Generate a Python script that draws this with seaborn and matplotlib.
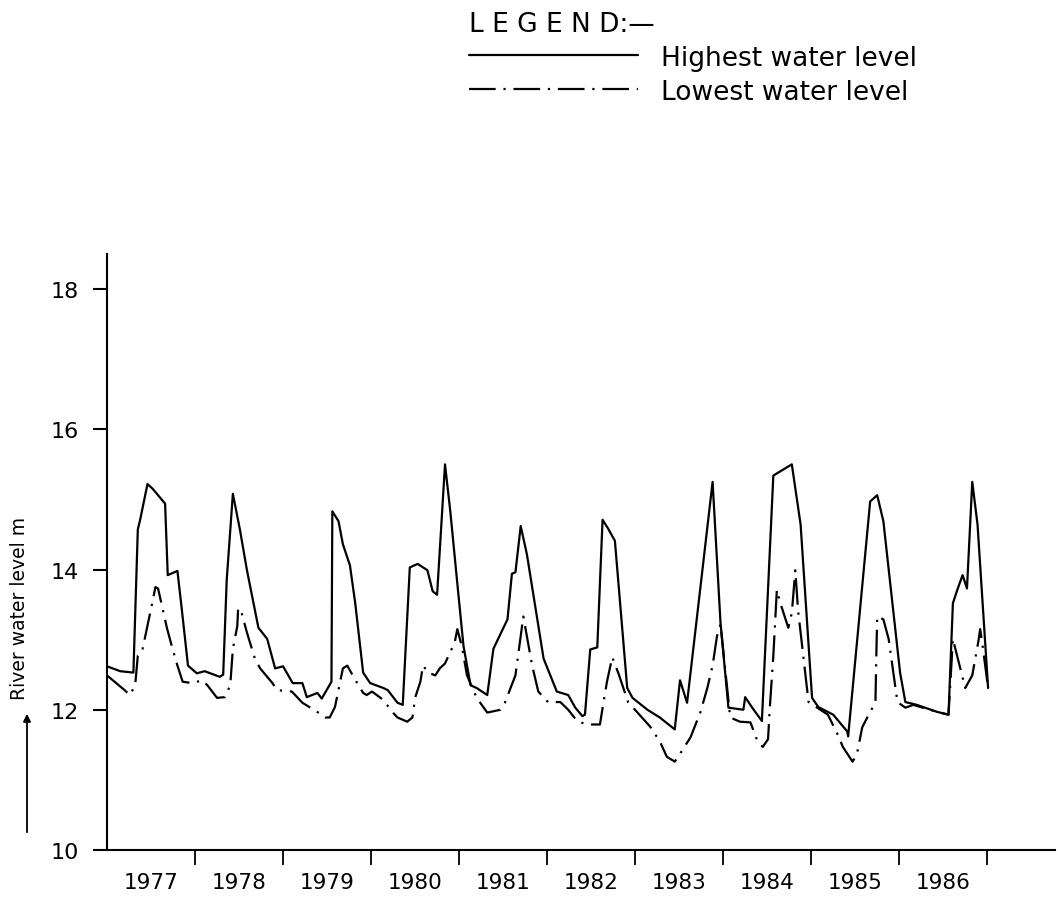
import matplotlib
matplotlib.use("Agg")
import matplotlib.pyplot as plt
import seaborn as sns
import pandas as pd
from matplotlib.ticker import FixedLocator, NullFormatter, FixedFormatter

# ---- data (decimal years, river level in m) ----
high_time = [1977.00, 1977.15, 1977.30, 1977.35, 1977.38, 1977.46, 1977.52, 1977.66, 1977.69,
             1977.80, 1977.85, 1977.92, 1978.02, 1978.11, 1978.28, 1978.32, 1978.36, 1978.43,
             1978.51, 1978.59, 1978.72, 1978.82, 1978.91, 1979.00, 1979.11, 1979.22, 1979.27,
             1979.39, 1979.44, 1979.55, 1979.56, 1979.63, 1979.68, 1979.76, 1979.82, 1979.91,
             1979.99, 1980.14, 1980.19, 1980.30, 1980.36, 1980.44, 1980.53, 1980.64, 1980.70,
             1980.75, 1980.84, 1980.90, 1980.98, 1981.05, 1981.13, 1981.20, 1981.32, 1981.39,
             1981.55, 1981.60, 1981.64, 1981.70, 1981.77, 1981.96, 1982.11, 1982.24, 1982.32,
             1982.40, 1982.43, 1982.49, 1982.57, 1982.63, 1982.69, 1982.77, 1982.91, 1982.97,
             1983.14, 1983.28, 1983.45, 1983.51, 1983.59, 1983.88, 1983.97, 1984.06, 1984.23,
             1984.25, 1984.33, 1984.44, 1984.57, 1984.78, 1984.88, 1985.01, 1985.08, 1985.25,
             1985.41, 1985.42, 1985.67, 1985.75, 1985.82, 1986.01, 1986.07, 1986.20, 1986.43,
             1986.56, 1986.61, 1986.66, 1986.72, 1986.77, 1986.83, 1986.89, 1987.01]
high_level = [12.62, 12.55, 12.53, 14.57, 14.73, 15.22, 15.15, 14.94, 13.92,
              13.98, 13.43, 12.63, 12.52, 12.55, 12.47, 12.50, 13.85, 15.08,
              14.57, 13.99, 13.17, 13.01, 12.59, 12.62, 12.38, 12.38, 12.18,
              12.24, 12.16, 12.40, 14.83, 14.69, 14.36, 14.06, 13.52, 12.53,
              12.38, 12.31, 12.28, 12.10, 12.07, 14.03, 14.08, 13.99, 13.69,
              13.64, 15.50, 14.83, 13.80, 12.91, 12.35, 12.31, 12.21, 12.87,
              13.29, 13.94, 13.96, 14.62, 14.22, 12.73, 12.26, 12.21, 12.03,
              11.91, 11.93, 12.86, 12.89, 14.71, 14.59, 14.41, 12.31, 12.17,
              12.00, 11.89, 11.72, 12.42, 12.10, 15.25, 13.24, 12.03, 12.00,
              12.18, 12.03, 11.84, 15.34, 15.50, 14.64, 12.17, 12.04, 11.93,
              11.69, 11.62, 14.97, 15.06, 14.69, 12.53, 12.11, 12.07, 11.97,
              11.93, 13.52, 13.71, 13.92, 13.73, 15.25, 14.64, 12.31]

low_time = [1977.00, 1977.20, 1977.26, 1977.32, 1977.35, 1977.40, 1977.51, 1977.55, 1977.58,
            1977.68, 1977.74, 1977.80, 1977.86, 1977.97, 1978.08, 1978.14, 1978.25, 1978.34,
            1978.40, 1978.43, 1978.48, 1978.49, 1978.53, 1978.59, 1978.68, 1978.74, 1978.88,
            1978.93, 1979.10, 1979.22, 1979.40, 1979.48, 1979.53, 1979.59, 1979.68, 1979.73,
            1979.80, 1979.91, 1979.95, 1980.01, 1980.14, 1980.24, 1980.30, 1980.41, 1980.47,
            1980.50, 1980.56, 1980.59, 1980.65, 1980.73, 1980.78, 1980.84, 1980.95, 1980.98,
            1981.03, 1981.09, 1981.20, 1981.32, 1981.47, 1981.52, 1981.64, 1981.69, 1981.73,
            1981.77, 1981.83, 1981.90, 1982.01, 1982.15, 1982.24, 1982.34, 1982.45, 1982.60,
            1982.64, 1982.68, 1982.74, 1982.81, 1982.92, 1983.17, 1983.28, 1983.36, 1983.45,
            1983.53, 1983.63, 1983.74, 1983.82, 1983.88, 1983.93, 1983.97, 1984.08, 1984.19,
            1984.31, 1984.39, 1984.45, 1984.51, 1984.53, 1984.57, 1984.61, 1984.65, 1984.74,
            1984.78, 1984.82, 1984.85, 1984.91, 1984.97, 1985.19, 1985.30, 1985.36, 1985.47,
            1985.52, 1985.58, 1985.67, 1985.73, 1985.74, 1985.75, 1985.82, 1985.88, 1985.98,
            1986.07, 1986.16, 1986.43, 1986.56, 1986.61, 1986.75, 1986.83, 1986.90, 1986.92,
            1986.95, 1987.01]
low_level = [12.49, 12.28, 12.21, 12.35, 12.77, 12.84, 13.50, 13.75, 13.73,
             13.17, 12.89, 12.63, 12.40, 12.38, 12.42, 12.35, 12.17, 12.18,
             12.35, 12.87, 13.19, 13.45, 13.38, 13.10, 12.73, 12.59, 12.38,
             12.28, 12.26, 12.10, 11.96, 11.89, 11.89, 12.04, 12.59, 12.63,
             12.47, 12.24, 12.21, 12.26, 12.14, 11.97, 11.89, 11.83, 11.89,
             12.17, 12.40, 12.63, 12.53, 12.49, 12.59, 12.66, 12.96, 13.15,
             12.91, 12.49, 12.17, 11.96, 12.00, 12.10, 12.49, 12.96, 13.33,
             13.05, 12.63, 12.26, 12.11, 12.11, 12.00, 11.84, 11.79, 11.79,
             12.10, 12.40, 12.75, 12.52, 12.11, 11.76, 11.55, 11.33, 11.26,
             11.41, 11.61, 11.96, 12.31, 12.63, 13.05, 13.22, 11.89, 11.83,
             11.82, 11.55, 11.47, 11.58, 12.03, 12.77, 13.71, 13.52, 13.17,
             13.38, 13.99, 13.43, 12.77, 12.11, 11.93, 11.65, 11.47, 11.26,
             11.37, 11.75, 11.97, 12.10, 12.77, 13.33, 13.29, 13.01, 12.11,
             12.03, 12.07, 11.97, 11.93, 13.01, 12.31, 12.49, 12.98, 13.15,
             12.89, 12.31]

series_names = ["Highest water level", "Lowest water level"]
year_labels = ["1977", "1978", "1979", "1980", "1981", "1982", "1983", "1984", "1985", "1986"]
year_bounds = [1978, 1979, 1980, 1981, 1982, 1983, 1984, 1985, 1986, 1987]
y_ticks = [10, 12, 14, 16, 18]

df = pd.concat([
    pd.DataFrame({"time": high_time, "level": high_level, "series": series_names[0]}),
    pd.DataFrame({"time": low_time, "level": low_level, "series": series_names[1]}),
], ignore_index=True)

sns.set_theme(style="white")
plt.rcParams["font.family"] = ["DejaVu Sans"]
plt.rcParams["text.color"] = "black"

W, H = 1058, 904
AX_L, AX_R, AX_B, AX_T = 107, 1055, 851, 255
fig = plt.figure(figsize=(W / 100, H / 100), dpi=100)
ax = fig.add_axes([AX_L / W, 1 - AX_B / H, (AX_R - AX_L) / W, (AX_B - AX_T) / H])

sns.lineplot(data=df, x="time", y="level", style="series", style_order=series_names,
             dashes={series_names[0]: "", series_names[1]: (12, 3.5, 1, 3.5)},
             color="black", linewidth=1.6, estimator=None, sort=False,
             legend=False, ax=ax)

ax.set_xlim(1977.0, 1987.77)
ax.set_ylim(10, 18.5)

for s in ["top", "right"]:
    ax.spines[s].set_visible(False)
for s in ["left", "bottom"]:
    ax.spines[s].set_color("black")
    ax.spines[s].set_linewidth(1.5)

ax.set_yticks(y_ticks)
ax.set_yticklabels([str(v) for v in y_ticks], fontsize=16)
ax.tick_params(axis="y", direction="out", length=10, width=1.5, pad=10.5, colors="black", left=True)

ax.xaxis.set_major_locator(FixedLocator(year_bounds))
ax.xaxis.set_major_formatter(NullFormatter())
ax.xaxis.set_minor_locator(FixedLocator([b - 0.5 for b in year_bounds]))
ax.xaxis.set_minor_formatter(FixedFormatter(year_labels))
ax.tick_params(axis="x", which="major", direction="out", length=11, width=1.3, colors="black", bottom=True)
ax.tick_params(axis="x", which="minor", length=0, pad=16, labelsize=15.5, labelcolor="black", bottom=True)

ax.set_xlabel("")
ax.set_ylabel("River water level m", fontsize=13.5, color="black")
ax.yaxis.set_label_coords((20 - AX_L) / (AX_R - AX_L), (AX_B - 608) / (AX_B - AX_T))
ax.yaxis.label.set_verticalalignment("center")

# arrow below the y label
ax.annotate("", xy=(27 / W, 1 - 712 / H), xytext=(27 / W, 1 - 836 / H),
            xycoords="figure fraction", textcoords="figure fraction",
            arrowprops=dict(arrowstyle="-|>", lw=1.3, color="black", mutation_scale=11))

handles = ax.get_lines()[:2]
leg = fig.legend(handles, series_names, loc="upper left",
                 bbox_to_anchor=(445 / W, 1 + 12 / H), frameon=False,
                 title="L E G E N D:\u2014", title_fontsize=19, fontsize=19,
                 handlelength=6.4, handletextpad=0.9, labelspacing=0.3,
                 alignment="left")
leg.get_title().set_color("black")
for t in leg.get_texts():
    t.set_color("black")

fig.savefig("out.png", dpi=100, facecolor="white")
